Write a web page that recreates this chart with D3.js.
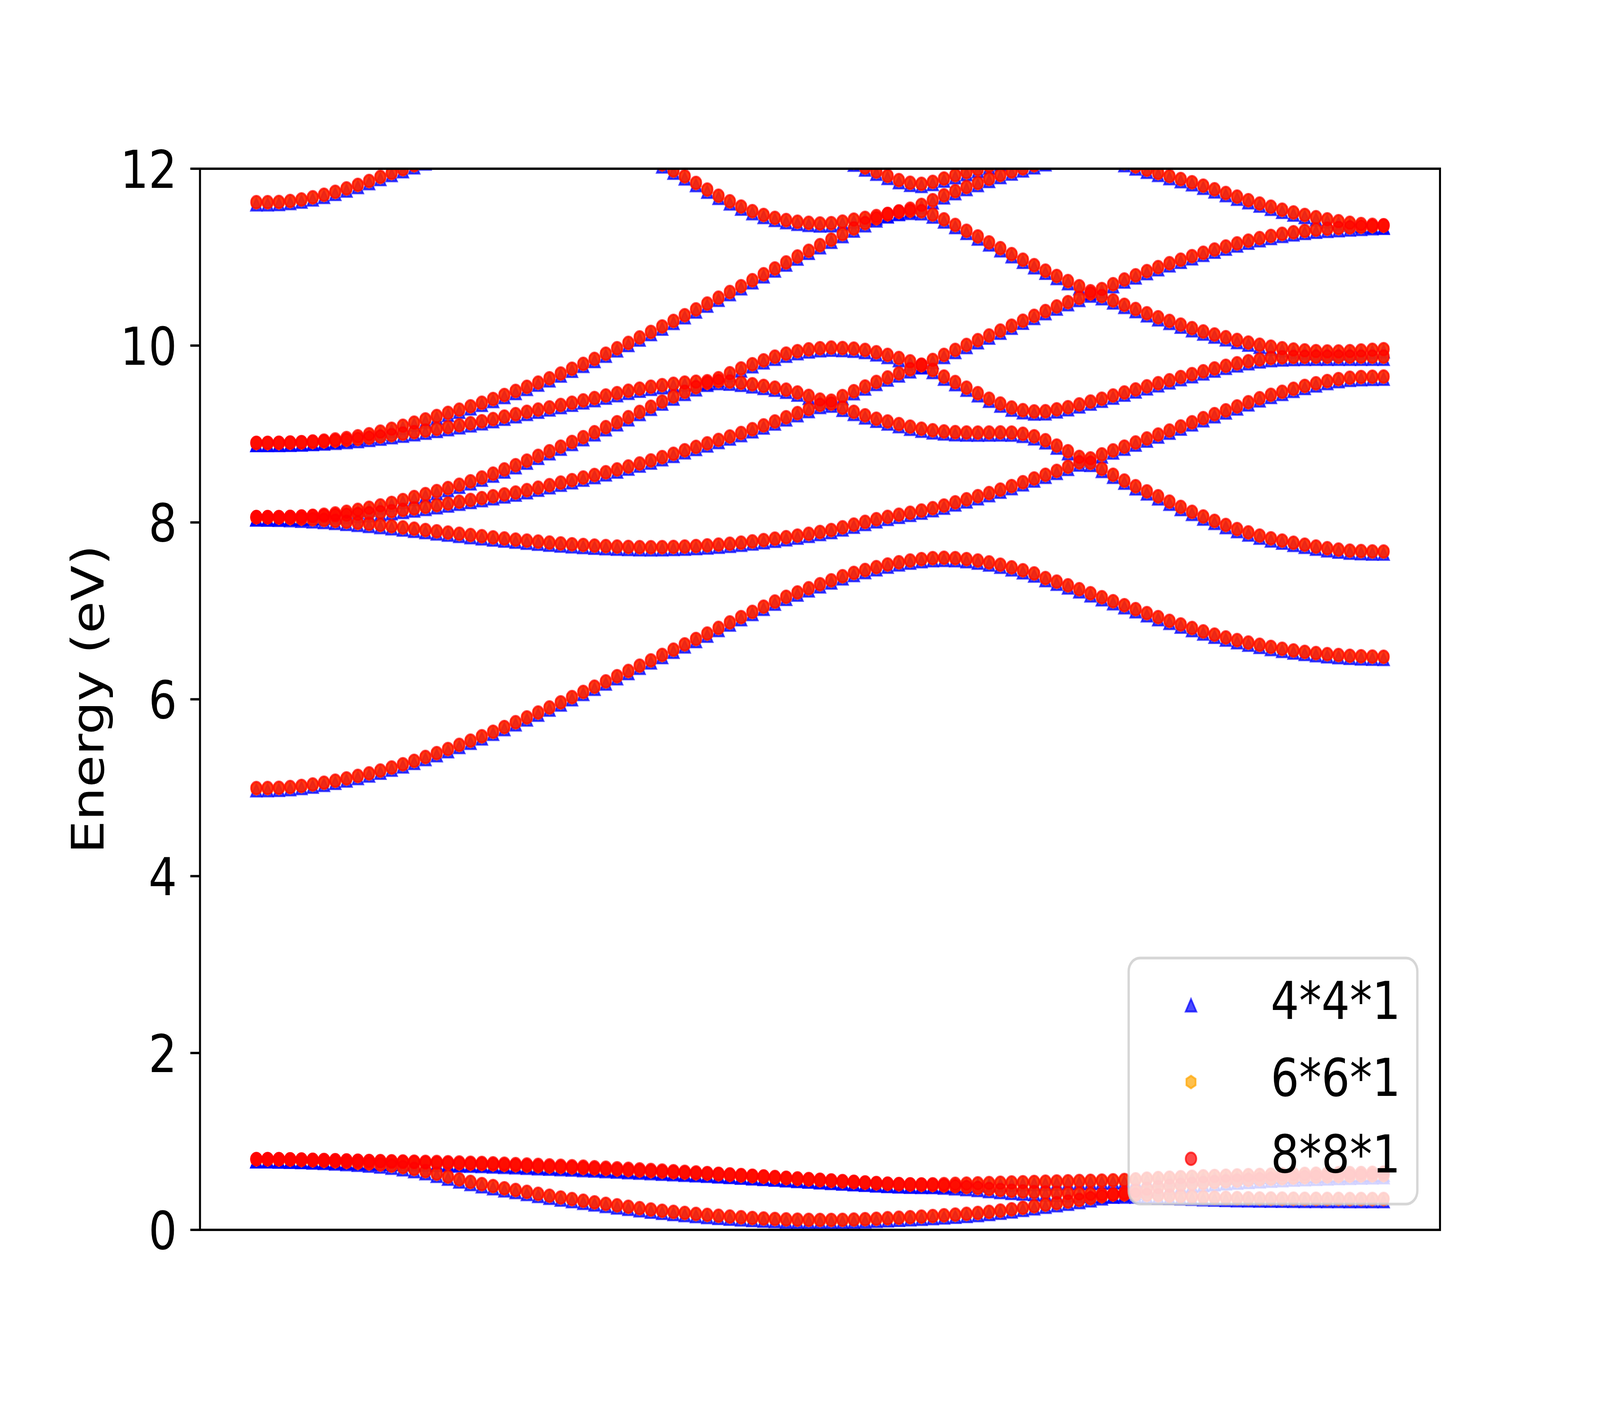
<!DOCTYPE html>
<html>
<head>
<meta charset="utf-8">
<script src="https://cdn.jsdelivr.net/npm/d3@7"></script>
<style>
  html, body { margin: 0; padding: 0; background: #fff; overflow: hidden; }
  svg { display: block; width: 100vw; height: 100vh; }
</style>
</head>
<body>
<svg id="chart" viewBox="0 0 4800 3600" preserveAspectRatio="none"></svg>
<script>
/* Band structure, three k-meshes overlaid. One table of bands shared by all meshes. */

// ---------- data ----------
const meshes = ['4*4*1', '6*6*1', '8*8*1'];
const meshColors = ['#0000ff', '#ffa500', '#ff0000'];
const meshShapes = ['triangle', 'hexagon', 'circle'];
const meshOffset = [-0.025, -0.005, 0];      // eV, how far each mesh sits from the shared table
const yTicks = [0, 2, 4, 6, 8, 10, 12];

// valence bands (k index 0..100)
const vb1 = [
  .800,.800,.799,.798,.796,.793,.791,.788,.786,.783,
  .780,.778,.776,.774,.772,.770,.768,.765,.763,.760,
  .757,.753,.749,.744,.740,.735,.730,.725,.720,.715,
  .709,.703,.697,.691,.685,.678,.671,.664,.657,.650,
  .643,.635,.628,.620,.613,.605,.598,.590,.583,.575,
  .568,.560,.552,.544,.537,.530,.524,.519,.516,.515,
  .516,.518,.521,.524,.527,.530,.533,.536,.539,.542,
  .545,.548,.550,.553,.555,.558,.561,.564,.572,.580,
  .586,.591,.596,.601,.606,.610,.613,.616,.619,.622,
  .625,.628,.631,.634,.636,.638,.640,.642,.644,.646,
  .648];
const vb2 = [
  .800,.800,.799,.797,.795,.792,.789,.786,.783,.780,
  .776,.773,.770,.767,.764,.761,.758,.755,.752,.749,
  .746,.741,.736,.731,.726,.721,.716,.711,.706,.700,
  .695,.689,.683,.677,.671,.665,.659,.653,.647,.641,
  .636,.629,.622,.614,.607,.600,.592,.585,.577,.570,
  .562,.555,.548,.541,.534,.527,.521,.516,.512,.510,
  .508,.502,.494,.485,.475,.463,.452,.443,.435,.429,
  .424,.419,.415,.411,.407,.404,.402,.401,.400,.396,
  .391,.386,.381,.376,.371,.367,.363,.360,.358,.356,
  .355,.354,.353,.352,.352,.351,.351,.350,.350,.350,
  .350];
const vb3 = [
  .800,.800,.798,.795,.791,.786,.781,.775,.768,.760,
  .751,.740,.727,.710,.689,.665,.636,.603,.572,.543,
  .518,.496,.471,.452,.430,.408,.387,.367,.349,.330,
  .312,.295,.278,.262,.246,.231,.217,.204,.192,.181,
  .170,.160,.151,.143,.135,.129,.124,.119,.116,.114,
  .113,.113,.114,.117,.121,.126,.132,.138,.144,.150,
  .157,.165,.173,.182,.192,.204,.218,.233,.250,.268,
  .286,.303,.320,.339,.359,.380,.400,.420,.443,.465,
  .484,.498,.510,.521,.531,.541,.550,.558,.566,.573,
  .580,.586,.592,.597,.602,.606,.610,.613,.616,.618,
  .620];

// conduction bands
const cb1 = [
  4.996,4.997,5.000,5.008,5.021,5.037,5.057,5.080,5.106,5.134,
  5.163,5.195,5.229,5.266,5.305,5.348,5.392,5.438,5.485,5.533,
  5.582,5.634,5.687,5.741,5.796,5.851,5.908,5.966,6.025,6.084,
  6.143,6.203,6.262,6.321,6.381,6.441,6.502,6.562,6.622,6.683,
  6.744,6.808,6.870,6.930,6.989,7.048,7.106,7.160,7.209,7.256,
  7.302,7.346,7.392,7.430,7.463,7.495,7.525,7.550,7.570,7.586,
  7.597,7.601,7.597,7.586,7.570,7.549,7.523,7.493,7.460,7.424,
  7.372,7.331,7.289,7.245,7.200,7.155,7.110,7.065,7.020,6.975,
  6.930,6.888,6.847,6.807,6.768,6.732,6.700,6.670,6.642,6.617,
  6.593,6.572,6.553,6.537,6.523,6.511,6.501,6.493,6.487,6.483,
  6.481];
const cb2 = [
  8.060,8.058,8.055,8.050,8.044,8.037,8.029,8.019,8.008,7.997,
  7.985,7.972,7.958,7.944,7.930,7.915,7.900,7.886,7.872,7.858,
  7.845,7.832,7.819,7.807,7.795,7.784,7.773,7.763,7.754,7.746,
  7.739,7.733,7.728,7.724,7.721,7.720,7.721,7.724,7.728,7.734,
  7.741,7.750,7.760,7.772,7.786,7.801,7.817,7.834,7.852,7.872,
  7.893,7.915,7.945,7.976,8.007,8.037,8.064,8.088,8.110,8.135,
  8.162,8.192,8.228,8.262,8.298,8.333,8.372,8.412,8.455,8.498,
  8.540,8.584,8.630,8.680,8.725,8.770,8.815,8.858,8.905,8.950,
  8.995,9.040,9.086,9.133,9.180,9.225,9.268,9.313,9.360,9.405,
  9.444,9.478,9.512,9.545,9.574,9.600,9.622,9.637,9.645,9.648,
  9.650];
const cb3 = [
  8.060,8.060,8.061,8.063,8.066,8.070,8.075,8.081,8.088,8.096,
  8.105,8.115,8.128,8.143,8.159,8.177,8.196,8.215,8.235,8.255,
  8.276,8.297,8.318,8.339,8.366,8.394,8.422,8.451,8.479,8.508,
  8.537,8.568,8.600,8.633,8.667,8.702,8.739,8.777,8.817,8.855,
  8.895,8.934,8.973,9.012,9.055,9.098,9.143,9.190,9.237,9.283,
  9.330,9.378,9.430,9.485,9.538,9.590,9.640,9.687,9.733,9.785,
  9.838,9.895,9.952,10.008,10.062,10.115,10.170,10.226,10.282,10.337,
  10.391,10.443,10.492,10.540,10.590,10.640,10.695,10.748,10.795,10.843,
  10.888,10.932,10.972,11.012,11.050,11.087,11.121,11.156,11.188,11.216,
  11.241,11.264,11.282,11.298,11.312,11.322,11.330,11.337,11.344,11.351,
  11.356];
const cb4 = [
  8.060,8.060,8.061,8.064,8.068,8.076,8.088,8.102,8.121,8.143,
  8.167,8.193,8.222,8.254,8.288,8.321,8.355,8.390,8.427,8.466,
  8.508,8.553,8.600,8.648,8.700,8.754,8.806,8.858,8.911,8.965,
  9.021,9.078,9.134,9.191,9.250,9.309,9.368,9.425,9.478,9.530,
  9.580,9.632,9.688,9.742,9.790,9.834,9.875,9.910,9.938,9.958,
  9.971,9.978,9.973,9.966,9.952,9.925,9.895,9.860,9.822,9.778,
  9.725,9.650,9.588,9.525,9.462,9.400,9.345,9.300,9.270,9.256,
  9.258,9.280,9.304,9.336,9.368,9.400,9.436,9.470,9.505,9.540,
  9.575,9.608,9.645,9.678,9.710,9.742,9.772,9.800,9.824,9.845,
  9.860,9.868,9.872,9.874,9.875,9.875,9.875,9.875,9.875,9.875,
  9.875];
const cb5 = [
  8.900,8.900,8.901,8.903,8.906,8.911,8.917,8.925,8.934,8.945,
  8.958,8.972,8.988,9.005,9.022,9.040,9.059,9.079,9.100,9.122,
  9.145,9.170,9.197,9.225,9.252,9.277,9.302,9.329,9.355,9.381,
  9.407,9.436,9.463,9.490,9.514,9.535,9.553,9.568,9.582,9.592,
  9.598,9.600,9.594,9.580,9.563,9.545,9.525,9.502,9.470,9.432,
  9.390,9.345,9.298,9.252,9.212,9.174,9.143,9.113,9.084,9.061,
  9.043,9.030,9.022,9.018,9.017,9.018,9.019,9.017,9.003,8.975,
  8.930,8.870,8.806,8.742,8.675,8.607,8.540,8.474,8.410,8.352,
  8.296,8.236,8.176,8.121,8.068,8.019,7.972,7.926,7.888,7.852,
  7.821,7.796,7.771,7.749,7.728,7.709,7.694,7.682,7.677,7.673,
  7.672];
const cb6 = [
  8.900,8.900,8.901,8.904,8.909,8.916,8.926,8.939,8.955,8.975,
  8.998,9.027,9.060,9.094,9.129,9.166,9.204,9.240,9.276,9.314,
  9.354,9.397,9.442,9.488,9.534,9.582,9.631,9.685,9.739,9.794,
  9.850,9.909,9.970,10.031,10.093,10.155,10.217,10.280,10.344,10.410,
  10.476,10.542,10.606,10.672,10.740,10.807,10.873,10.941,11.008,11.073,
  11.136,11.198,11.262,11.325,11.385,11.440,11.485,11.518,11.548,11.592,
  11.644,11.700,11.748,11.794,11.840,11.886,11.930,11.970,12.005,12.040,
  12.075];
// bands that enter from above the window start later along k
const cb7 = [
  12.13,12.05,11.98,11.915,11.84,11.765,11.695,11.632,11.573,11.521,
  11.478,11.445,11.420,11.401,11.389,11.382,11.385,11.403,11.425,11.445,
  11.465,11.490,11.512,11.525,11.520,11.483,11.428,11.365,11.299,11.235,
  11.168,11.102,11.035,10.972,10.910,10.848,10.788,10.730,10.672,10.615,
  10.560,10.512,10.462,10.414,10.366,10.321,10.280,10.238,10.198,10.160,
  10.126,10.095,10.064,10.035,10.010,9.988,9.970,9.956,9.946,9.938,
  9.934,9.934,9.938,9.945,9.953,9.960];
const cb8 = [
  11.622,11.622,11.625,11.636,11.653,11.677,11.706,11.740,11.778,11.818,
  11.862,11.908,11.953,11.996,12.040,12.085];
const cb9 = [
  12.13,12.07,12.015,11.968,11.920,11.872,11.842,11.830,11.852,11.890,
  11.928,11.963,11.997,12.035,12.075];
const cb10 = [
  12.10,12.065,12.027,11.990,11.954,11.918,11.884,11.848,11.809,11.768,
  11.726,11.685,11.645,11.607,11.571,11.537,11.506,11.478,11.452,11.428,
  11.407,11.389,11.375,11.366,11.362];

const bands = [vb1, vb2, vb3, cb1, cb2, cb3, cb4, cb5, cb6, cb7, cb8, cb9, cb10];
const bandStart = [0, 0, 0, 0, 0, 0, 0, 0, 0, 35, 0, 52, 76];

// ---------- layout ----------
const plot = { left: 600, right: 4320, top: 432, bottom: 3149 };
const FONT = '"DejaVu Sans", sans-serif';
const FS = 134;
const R = 16;            // marker half-size
const SW = 5;            // marker edge width
const ALPHA = 0.7;

const x = d3.scaleLinear().domain([-5, 105]).range([plot.left, plot.right]);
const y = d3.scaleLinear().domain([0, 12]).range([plot.bottom, plot.top]);

const svg = d3.select('#chart');
svg.append('rect').attr('width', 4800).attr('height', 3600).attr('fill', '#fff');

svg.append('defs').append('clipPath').attr('id', 'plot-clip')
  .append('rect')
  .attr('x', plot.left).attr('y', plot.top)
  .attr('width', plot.right - plot.left).attr('height', plot.bottom - plot.top);

// marker outlines, centred on 0,0
function hexPath(r) {
  const pts = d3.range(6).map(k => {
    const a = Math.PI / 2 + k * Math.PI / 3;
    return [r * Math.cos(a), -r * Math.sin(a)];
  });
  return 'M' + pts.map(p => p[0].toFixed(2) + ',' + p[1].toFixed(2)).join('L') + 'Z';
}
const shapePath = {
  triangle: `M0,${-R}L${R},${R}L${-R},${R}Z`,
  hexagon: hexPath(R),
  circle: `M${-R},0A${R},${R} 0 1,0 ${R},0A${R},${R} 0 1,0 ${-R},0Z`,
};
function marker(g, shape, color, tx, ty) {
  g.append('path')
    .attr('d', shapePath[shape])
    .attr('transform', `translate(${tx.toFixed(1)},${ty.toFixed(1)})`)
    .attr('fill', color).attr('fill-opacity', ALPHA)
    .attr('stroke', color).attr('stroke-opacity', ALPHA)
    .attr('stroke-width', SW).attr('stroke-linejoin', 'miter');
}

// ---------- points ----------
const pts = svg.append('g').attr('clip-path', 'url(#plot-clip)');
meshes.forEach((m, mi) => {
  const g = pts.append('g').attr('class', 'mesh-' + mi);
  bands.forEach((b, bi) => {
    b.forEach((e, j) => {
      if (e == null) return;
      const k = bandStart[bi] + j;
      marker(g, meshShapes[mi], meshColors[mi], x(k), y(e + meshOffset[mi]));
    });
  });
});

// ---------- axes ----------
const ax = svg.append('g').attr('font-family', FONT);
yTicks.forEach(t => {
  ax.append('line')
    .attr('x1', plot.left - 29).attr('x2', plot.left)
    .attr('y1', y(t)).attr('y2', y(t))
    .attr('stroke', '#000').attr('stroke-width', 6);
  ax.append('text')
    .attr('x', plot.left - 69).attr('y', y(t) + 0.364 * FS)
    .attr('text-anchor', 'end').attr('font-size', FS).attr('fill', '#000')
    .text(t);
});
ax.append('rect')
  .attr('x', plot.left).attr('y', plot.top)
  .attr('width', plot.right - plot.left).attr('height', plot.bottom - plot.top)
  .attr('fill', 'none').attr('stroke', '#000').attr('stroke-width', 6)
  .attr('stroke-linejoin', 'miter');

ax.append('text')
  .attr('transform', `translate(310,${(plot.top + plot.bottom) / 2}) rotate(-90)`)
  .attr('text-anchor', 'middle').attr('font-size', FS).attr('fill', '#000')
  .text('Energy (eV)');

// ---------- legend ----------
const leg = svg.append('g').attr('font-family', FONT);
leg.append('rect')
  .attr('x', 3386).attr('y', 2453).attr('width', 866).attr('height', 630)
  .attr('rx', 34).attr('ry', 34)
  .attr('fill', '#fff').attr('fill-opacity', 0.8)
  .attr('stroke', '#cccccc').attr('stroke-opacity', 0.8).attr('stroke-width', 7);
meshes.forEach((m, mi) => {
  const cy = 2574 + mi * 196.5;
  marker(leg, meshShapes[mi], meshColors[mi], 3573, cy);
  leg.append('text')
    .attr('x', 3812).attr('y', cy + 35.5)
    .attr('font-size', FS).attr('fill', '#000')
    .text(m);
});
</script>
</body>
</html>
